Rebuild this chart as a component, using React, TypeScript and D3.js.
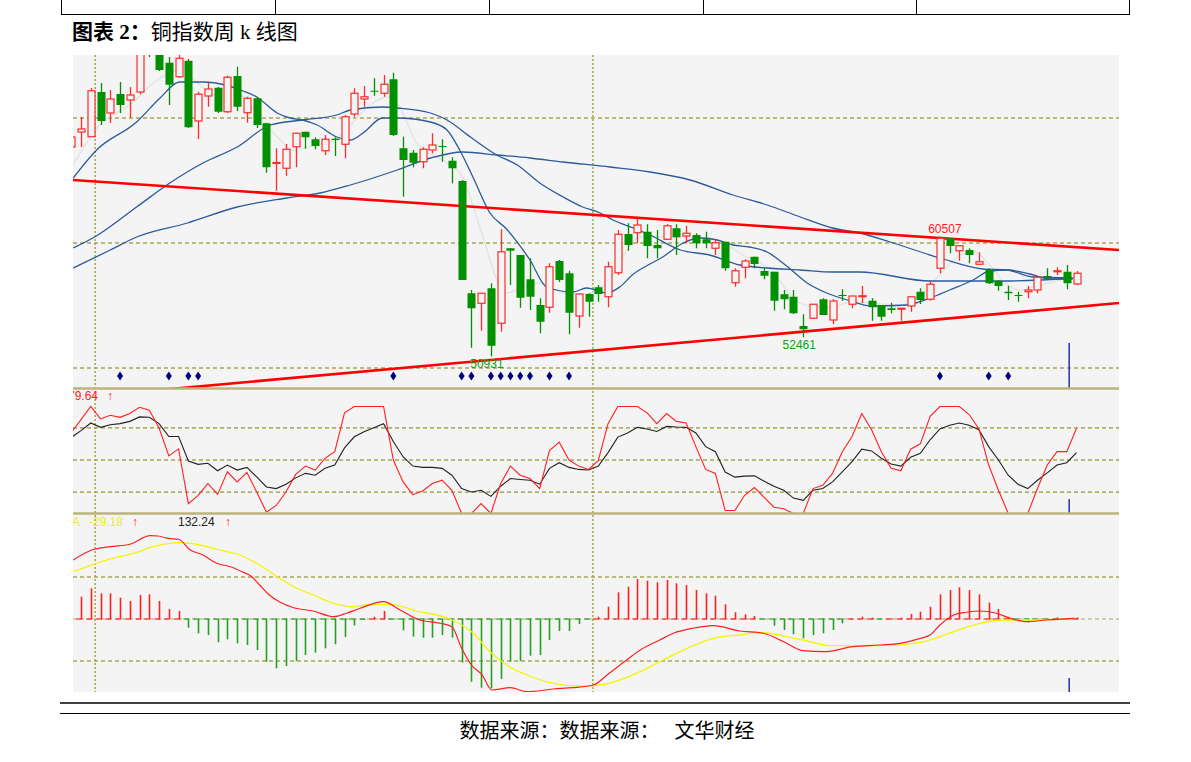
import React from "react";
import * as d3 from "d3";

// ---------------- DATA ----------------
// weekly candles, first element is index -1 (partially hidden at left edge)
const startIndex = -1;
const open = [67680, 68880, 68500, 72080, 70400, 71920, 71440, 72080, 76640, 76240,
  74420, 73300, 74580, 69760, 71760, 72420, 70500, 73360, 70420, 71580,
  69580, 66360, 65980, 67700, 68900, 68300, 67380, 68340, 67900, 70320,
  71520, 72180, 71980, 73100, 67580, 67220, 66500, 67440, 67760, 66580,
  64960, 55980, 55180, 56380, 53580, 59580, 59040, 57100, 55040, 54860,
  58560, 57580, 54160, 55920, 56460, 55700, 57620, 60720, 60820, 60900,
  59840, 60300, 61180, 60560, 60640, 60300, 59580, 60100, 56820, 58060,
  58900, 57760, 57700, 55900, 55700, 53360, 53980, 55500, 53840, 55840,
  55100, 55740, 55380, 55040, 54780, 54740, 54960, 56100, 55500, 57980,
  60380, 59380, 59440, 58300, 57840, 56960, 56100, 55840, 56100, 56240,
  57360, 57740, 57700, 56720];
const high = [68640, 70080, 72400, 72800, 72240, 72880, 72480, 76240, 77040, 77040,
  74880, 75040, 74720, 72100, 72800, 72480, 73380, 74100, 71700, 71700,
  69620, 67580, 67920, 68820, 68900, 68460, 68640, 68460, 70240, 72380,
  72560, 73180, 73440, 73620, 68500, 67440, 67660, 68780, 68300, 66860,
  65040, 56240, 56000, 56780, 61100, 59600, 59040, 58780, 55580, 58380,
  58640, 57780, 55920, 55980, 56640, 58500, 61040, 61580, 61980, 61500,
  61040, 61520, 61500, 61380, 60780, 60900, 60300, 60100, 57980, 58700,
  58900, 58060, 57700, 56240, 56240, 54300, 55120, 55580, 55500, 56300,
  55760, 56560, 55580, 55040, 55220, 54800, 55700, 56380, 56980, 60507,
  60380, 59780, 59580, 59260, 57980, 57040, 56580, 56100, 56560, 57260,
  57980, 58060, 58240, 57760];
const low = [67440, 67680, 68480, 69440, 69600, 70400, 70000, 71900, 74880, 73760,
  71040, 73200, 69200, 68320, 70900, 70400, 70400, 70560, 69620, 69200,
  65620, 64180, 65360, 66060, 67540, 67500, 67040, 66960, 66780, 70100,
  70900, 71780, 71700, 68560, 63700, 66060, 65980, 67180, 66500, 64780,
  57040, 51620, 52980, 50931, 52900, 56640, 54820, 54640, 52780, 54420,
  56880, 52700, 53220, 54100, 55300, 54860, 57440, 59380, 59980, 58780,
  58780, 60240, 59040, 59980, 59580, 59580, 59040, 57780, 56500, 57180,
  57980, 57100, 54580, 54700, 54320, 52461, 53960, 54240, 53500, 55380,
  54780, 55180, 53780, 53780, 54380, 53780, 54500, 55120, 55380, 57580,
  59180, 58580, 58380, 58240, 56720, 56180, 55440, 55300, 55580, 55980,
  57040, 57440, 56300, 56640];
const close = [68480, 69120, 72180, 69760, 71520, 71040, 71840, 75840, 75440, 73840,
  72660, 74780, 69260, 71900, 72320, 70500, 73260, 70900, 71580, 69440,
  66060, 66440, 67500, 68780, 68460, 67760, 68300, 68240, 70100, 71980,
  71700, 72140, 72700, 68640, 66640, 66420, 67500, 67840, 67700, 65980,
  57040, 54780, 55980, 51780, 59300, 59380, 55620, 55700, 53700, 58100,
  57040, 54420, 55920, 55300, 55920, 58100, 60700, 59840, 61440, 59760,
  59580, 61380, 60460, 60780, 59980, 59980, 60020, 57980, 57780, 58560,
  58320, 57380, 55380, 55500, 54380, 53100, 55100, 54240, 55360, 55760,
  55760, 55780, 54860, 54100, 54640, 54780, 55700, 55440, 56700, 60380,
  59760, 59780, 59040, 58500, 56780, 56560, 55980, 55760, 56240, 57260,
  57260, 57780, 56780, 57580];

// moving averages (candle index, price)
const ma1Idx = [-0.8, 1.9, 5.0, 8.1, 10.1, 12.2, 13.7, 16.3, 18.1, 19.9, 21.9, 24.0, 26.0, 27.6, 29.6, 31.4, 32.4, 34.4, 37.5, 39.1, 40.2, 41.6, 42.6, 43.6, 45.3, 47.0, 49.4, 51.1, 52.9, 54.2, 55.5, 57.3, 60.0, 62.4, 64.4, 66.2, 67.8, 69.6, 70.9, 72.3, 73.7, 75.4, 77.0, 78.8, 80.8, 83.9, 86.0, 88.0, 90.1, 91.6, 93.1, 94.7, 96.2, 98.3, 100.3, 101.6];
const ma1Val = [66240, 69440, 71040, 73200, 73840, 72640, 71840, 71840, 70240, 68640, 67440, 67840, 68240, 69440, 71040, 71680, 71200, 68000, 66400, 65280, 62880, 59440, 57040, 56000, 56480, 56800, 56000, 55840, 56240, 57040, 58880, 60480, 60480, 60480, 60400, 59840, 59040, 58400, 57680, 56240, 55200, 54880, 54880, 55280, 55200, 55040, 55840, 57440, 59040, 59280, 58240, 56800, 56240, 56640, 57040, 57120];
const ma2Idx = [-0.8, 1.6, 5.7, 8.1, 10.1, 12.5, 14.8, 16.6, 18.0, 20.1, 21.4, 22.7, 24.2, 26.2, 27.6, 28.9, 30.9, 32.4, 35.8, 37.5, 38.8, 40.2, 41.9, 43.6, 46.0, 47.7, 50.4, 51.8, 53.9, 55.2, 56.6, 58.3, 59.6, 61.7, 63.4, 65.2, 66.8, 68.5, 70.3, 72.3, 74.4, 76.4, 78.5, 81.1, 84.6, 87.0, 89.0, 91.4, 93.1, 94.9, 97.2, 99.3, 101.6];
const ma2Val = [65200, 67440, 69680, 71600, 72880, 72880, 72640, 72160, 71680, 70400, 70000, 69840, 69440, 68480, 68240, 68800, 70000, 70000, 69680, 69040, 67440, 65200, 62400, 61120, 58640, 56480, 56080, 56400, 56000, 56480, 57520, 58320, 58880, 60000, 60400, 60240, 59840, 59680, 59280, 58160, 56800, 56000, 55440, 54960, 55040, 55600, 56240, 57040, 57760, 57840, 57520, 57120, 57120];
const ma3Idx = [-0.8, 1.4, 5.7, 9.1, 12.5, 16.0, 19.4, 22.7, 26.2, 27.6, 30.9, 32.4, 35.8, 37.5, 39.9, 42.6, 44.7, 47.0, 49.4, 51.4, 53.2, 54.5, 56.6, 58.3, 61.4, 64.4, 67.5, 70.3, 73.7, 77.0, 79.8, 87.0, 94.2, 98.3, 101.6];
const ma3Val = [59600, 60480, 62880, 64800, 66400, 67680, 69440, 69840, 70240, 70640, 70880, 70800, 70400, 69840, 68480, 67040, 66240, 64800, 63680, 62880, 62400, 61840, 61200, 60640, 59440, 59040, 58240, 58000, 57840, 57680, 57680, 56960, 56960, 57040, 57200];
const ma4Idx = [-0.8, 3.0, 5.7, 10.9, 16.0, 21.1, 24.5, 27.6, 32.4, 35.8, 39.1, 42.6, 46.0, 49.4, 54.2, 58.3, 62.4, 66.8, 70.3, 73.7, 77.0, 79.8, 82.9, 88.0, 92.4, 94.9, 97.5, 101.6];
const ma4Val = [58000, 59440, 60480, 61600, 62880, 63600, 64000, 64640, 65840, 66800, 67280, 67040, 66800, 66480, 66080, 65680, 65040, 63840, 63040, 62080, 61200, 60800, 60080, 58800, 57920, 57840, 57280, 57200];

// hand-drawn trend lines (candle index, price)
const upperTrendIdx = [-0.82, 106.35];
const upperTrendVal = [65040, 59440];
const lowerTrendIdx = [5, 106.35];
const lowerTrendVal = [48025, 55200];

// marked extremes
const markLow1 = { index: 42, text: "50931" };
const markLow2 = { index: 74, text: "52461" };
const markHigh = { index: 88, text: "60507" };

// blue signal diamonds (candle index)
const signalIdx = [4, 9, 11, 12, 32, 39, 40, 42, 43, 44, 45, 46, 48, 50, 88, 93, 95];
// dotted period separators (between candles)
const periodBreaks = [1.45, 52.45];
const cursorIdx = 101.25;

// oscillator (KDJ-style) per candle, from index -1
const oscFast = [75.5, 87.7, 100, 88.4, 91.8, 89.9, 93.4, 99.3, 96.5, 79.9,
  53.8, 60.4, 9.2, 17.0, 28.0, 17.9, 39.0, 29.5, 38.4, 20.1,
  1.2, 7.5, 20.1, 36.5, 44.3, 40.6, 51.6, 57.8, 94.1, 100,
  100, 100, 100, 50, 29.5, 17.6, 21.0, 28.0, 31.1, 21.7,
  0, 0, 9.2, 0, 28.0, 44.3, 35.8, 32.7, 23.3, 58.8,
  66.7, 50, 44.3, 41.2, 49.3, 84.0, 100, 100, 100, 94.1,
  84.0, 93.4, 86.1, 84.6, 62.5, 41.2, 37.5, 2.8, 2.8, 17.0,
  24.2, 15.1, 5.9, 4.4, 0, 0, 23.3, 26.4, 37.5, 57.8,
  72.0, 93.4, 78.3, 57.8, 42.2, 39.9, 60.1, 65.1, 90.8, 100,
  100, 100, 92.5, 79.0, 45.3, 21.7, 0, 0, 0, 23.3,
  45.3, 57.8, 57.8, 79.6];
const oscSlow = [71.0, 77.4, 84.6, 80.5, 83.0, 84.0, 86.1, 90.3, 89.9, 84.0,
  72.0, 72.0, 49.1, 45.9, 46.9, 39.9, 45.3, 40.6, 43.1, 34.2,
  24.8, 23.3, 27.4, 33.3, 37.5, 35.8, 42.2, 45.3, 61.3, 71.7,
  76.4, 80.2, 84.0, 67.3, 53.1, 44.3, 43.1, 43.1, 42.2, 35.8,
  23.3, 20.1, 21.7, 16.0, 25.5, 32.7, 31.8, 31.1, 27.4, 42.2,
  47.5, 43.1, 41.2, 40.6, 44.3, 56.9, 71.4, 75.2, 80.5, 78.9,
  76.7, 81.4, 80.8, 80.5, 75.2, 62.5, 57.8, 38.7, 34.0, 34.9,
  35.2, 30.2, 25.5, 21.7, 14.4, 12.3, 21.7, 23.3, 29.5, 38.9,
  48.4, 60.1, 58.5, 51.6, 46.2, 44.3, 52.5, 56.3, 68.9, 79.0,
  82.4, 84.6, 82.4, 78.3, 62.5, 50.0, 35.8, 27.4, 23.3, 31.1,
  38.0, 45.3, 47.5, 56.9];
const oscGrid = [20, 50, 80];
const oscLabel = "79.64";

// MACD histogram per candle from index -1
const macdHist = [420, 531, 731, 612, 612, 507, 429, 571, 588, 429,
  238, 190, -207, -340, -381, -555, -483, -579, -619, -738,
  -1017, -1174, -1119, -1000, -857, -802, -698, -602, -429, -155,
  -20, 55, 190, -10, -269, -421, -445, -445, -381, -445,
  -1040, -1493, -1636, -1650, -1429, -1017, -1000, -874, -857, -500,
  -286, -286, -119, -7, 55, 293, 636, 769, 952, 912,
  874, 929, 850, 810, 690, 612, 555, 350, 160, 112,
  71, -10, -160, -262, -364, -460, -381, -340, -262, -102,
  5, 55, 31, -5, 5, 31, 119, 174, 293, 588,
  690, 755, 690, 588, 388, 238, 55, -48, -79, -10,
  -24, 40, 17, 40];
const difIdx = [-0.8, 1.1, 3.0, 5.0, 7.1, 7.9, 8.9, 10.0, 11.2, 12.5, 13.9, 15.3, 16.5, 17.5, 18.3, 19.2, 20.4, 21.8, 23.8, 25.9, 27.2, 28.6, 31.0, 32.7, 34.7, 36.8, 38.0, 39.0, 40.0, 41.1, 42.1, 44.0, 45.7, 48.4, 50.4, 52.5, 53.9, 55.9, 57.3, 59.3, 60.7, 62.7, 64.8, 67.5, 69.9, 72.0, 74.0, 76.1, 79.1, 81.9, 83.9, 86.0, 87.0, 88.0, 89.4, 90.7, 92.1, 93.8, 95.2, 96.9, 98.9, 101.8];
const difVal = [1405, 1643, 1721, 1779, 1983, 1976, 1921, 1898, 1643, 1524, 1326, 1245, 1126, 1007, 810, 588, 398, 269, 190, 55, 136, 255, 412, 214, -24, -102, -183, -698, -1095, -1333, -1690, -1636, -1731, -1667, -1636, -1571, -1333, -976, -738, -500, -340, -221, -160, -286, -340, -540, -755, -779, -660, -619, -579, -460, -381, -143, 95, 160, 190, 136, 17, -64, -24, 17];
const deaIdx = [-0.8, 1.3, 3.0, 5.4, 7.4, 10.1, 12.2, 14.2, 16.3, 18.3, 20.1, 21.8, 23.8, 25.9, 27.6, 29.3, 31.7, 34.4, 37.8, 40.2, 41.9, 43.6, 45.7, 48.4, 51.1, 53.2, 55.2, 57.3, 59.3, 62.1, 64.8, 67.5, 69.9, 72.3, 74.4, 76.7, 79.8, 83.2, 86.6, 89.4, 92.1, 94.5, 97.9, 101.8];
const deaVal = [1126, 1302, 1429, 1564, 1721, 1817, 1762, 1643, 1524, 1286, 1007, 769, 571, 374, 293, 333, 350, 190, 0, -340, -779, -1095, -1333, -1531, -1595, -1571, -1452, -1255, -1017, -698, -460, -381, -326, -421, -524, -636, -636, -619, -524, -302, -102, -24, -24, 17];
const macdGrid = [-1000, 0, 1000];
const deaLabel = "-29.18";
const macdLabel = "132.24";

const priceGrid = [50000, 60000, 70000];

// ---------------- LAYOUT ----------------
const W = 1191, H = 762;
const PL = 73, PR = 1119;
const mainTop = 55, mainBot = 388;
const kdjTop = 389, kdjBot = 514;
const macdTop = 514, macdBot = 692;
const BG = "#f4f4f4";
const RED = "#ff2a2a";
const GREEN = "#009000";
const MA_BLUE = "#2b5b9c";
const OLIVE = "#808000";
const FONT = "'Liberation Sans', Arial, sans-serif";
const SERIF = "'Liberation Serif', 'Noto Sans CJK SC', serif";

export default function App() {
  const x = d3.scaleLinear().domain([0, 102]).range([81, 1076.52]);
  const yP = d3.scaleLinear().domain([50000, 70000]).range([368, 118]);
  const yK = d3.scaleLinear().domain([0, 100]).range([513.5, 406.5]);
  const yM = d3.scaleLinear().domain([-1000, 1000]).range([661, 577]);
  const idx = open.map((_, k) => k + startIndex);

  const curvePath = (xs: number[], vs: number[], ys: (v: number) => number, curve: any = d3.curveMonotoneX) =>
    d3.line<[number, number]>().x(d => x(d[0])).y(d => ys(d[1])).curve(curve)(xs.map((v, k) => [v, vs[k]])) || "";

  const bw = 8;

  return (
    <div style={{ position: "fixed", left: 0, top: 0 }}>
      <svg width={W} height={H} style={{ display: "block", background: "#fff" }}>
        <defs>
          <clipPath id="cMain"><rect x={PL} y={mainTop} width={PR - PL} height={mainBot - mainTop} /></clipPath>
          <clipPath id="cKdj"><rect x={PL} y={kdjTop} width={PR - PL} height={kdjBot - kdjTop} /></clipPath>
          <clipPath id="cMacd"><rect x={PL} y={macdTop} width={PR - PL} height={macdBot - macdTop} /></clipPath>
        </defs>

        {/* top table fragment */}
        <line x1={61} x2={1130} y1={14.5} y2={14.5} stroke="#000" strokeWidth={1} />
        {[61.5, 275.5, 489.5, 703.5, 916.5, 1129.5].map((v, k) => (
          <line key={k} x1={v} x2={v} y1={0} y2={14} stroke="#000" strokeWidth={1} />
        ))}
        <text x={72} y={39} fontSize={21} fontFamily={SERIF} fill="#000">
          <tspan fontWeight="bold">图表 2：</tspan>铜指数周 k 线图
        </text>

        {/* background */}
        <rect x={PL} y={mainTop} width={PR - PL} height={macdBot - mainTop} fill={BG} />

        {/* grid */}
        {priceGrid.map(v => (
          <line key={"pg" + v} x1={PL} x2={PR} y1={yP(v)} y2={yP(v)} stroke={OLIVE} strokeDasharray="4,3" strokeWidth={1} />
        ))}
        {oscGrid.map(v => (
          <line key={"kg" + v} x1={PL} x2={PR} y1={yK(v)} y2={yK(v)} stroke={OLIVE} strokeDasharray="4,3" strokeWidth={1} />
        ))}
        {macdGrid.map(v => (
          <line key={"mg" + v} x1={PL} x2={PR} y1={yM(v)} y2={yM(v)} stroke={v === 0 ? "#a8a860" : OLIVE} strokeDasharray="4,3" strokeWidth={1} />
        ))}
        {periodBreaks.map(v => (
          <line key={"pb" + v} x1={x(v)} x2={x(v)} y1={mainTop} y2={macdBot} stroke="#a0a040" strokeDasharray="2,2" strokeWidth={1.4} />
        ))}

        {/* main panel */}
        <g clipPath="url(#cMain)">
          <path d={curvePath(ma1Idx, ma1Val, yP)} fill="none" stroke="#e2e2e2" strokeWidth={1.3} />
          <path d={curvePath(ma4Idx, ma4Val, yP)} fill="none" stroke={MA_BLUE} strokeWidth={1.3} />
          <path d={curvePath(ma3Idx, ma3Val, yP)} fill="none" stroke={MA_BLUE} strokeWidth={1.3} />
          <path d={curvePath(ma2Idx, ma2Val, yP)} fill="none" stroke={MA_BLUE} strokeWidth={1.3} />
          <path d={curvePath(upperTrendIdx, upperTrendVal, yP, d3.curveLinear)} fill="none" stroke="#ff0000" strokeWidth={2.6} />
          <path d={curvePath(lowerTrendIdx, lowerTrendVal, yP, d3.curveLinear)} fill="none" stroke="#ff0000" strokeWidth={2.6} />
          {idx.map((i, k) => {
            const o = open[k], c = close[k], h = high[k], l = low[k];
            const up = c >= o;
            const cx = Math.round(x(i)) + 0.5;
            const top = yP(Math.max(o, c));
            const bot = yP(Math.min(o, c));
            const bh = Math.max(1, bot - top);
            return (
              <g key={"c" + k}>
                <line x1={cx} x2={cx} y1={yP(h)} y2={yP(l)} stroke={up ? RED : GREEN} strokeWidth={1.3} />
                {up ? (
                  <rect x={cx - bw / 2 + 0.5} y={top} width={bw - 1} height={bh} fill={BG} stroke={RED} strokeWidth={1.2} />
                ) : (
                  <rect x={cx - bw / 2} y={top} width={bw} height={bh} fill={GREEN} />
                )}
              </g>
            );
          })}
          {signalIdx.map(i => {
            const cx = x(i), cy = 376;
            return <path key={"d" + i} d={`M${cx},${cy - 4.5}L${cx + 3},${cy}L${cx},${cy + 4.5}L${cx - 3},${cy}Z`} fill="#000080" />;
          })}
          <text x={x(markLow1.index) - 4} y={yP(low[markLow1.index - startIndex]) + 11.5} textAnchor="middle" fontSize={12} fontFamily={FONT} fill="#10a010">{markLow1.text}</text>
          <text x={x(markLow2.index) - 4} y={yP(low[markLow2.index - startIndex]) + 11.5} textAnchor="middle" fontSize={12} fontFamily={FONT} fill="#10a010">{markLow2.text}</text>
          <text x={x(markHigh.index) + 5} y={yP(high[markHigh.index - startIndex]) - 4} textAnchor="middle" fontSize={12} fontFamily={FONT} fill="#ff2020">{markHigh.text}</text>
          <line x1={x(cursorIdx)} x2={x(cursorIdx)} y1={mainBot - 45} y2={mainBot} stroke="#3a3aa8" strokeWidth={1.6} />
        </g>

        {/* oscillator panel */}
        <g clipPath="url(#cKdj)">
          <path d={curvePath(idx, oscSlow, yK, d3.curveLinear)} fill="none" stroke="#222" strokeWidth={1.1} />
          <path d={curvePath(idx, oscFast, yK, d3.curveLinear)} fill="none" stroke="#ff2020" strokeWidth={1.1} />
          <text x={68} y={400} fontSize={12} fontFamily={FONT} fill="#ff2020">{oscLabel}</text>
          <text x={107} y={400} fontSize={12} fontFamily={FONT} fill="#ff2020" fontWeight="bold">↑</text>
          <line x1={x(cursorIdx)} x2={x(cursorIdx)} y1={kdjBot - 15} y2={kdjBot} stroke="#3a3aa8" strokeWidth={1.6} />
        </g>

        {/* MACD panel */}
        <g clipPath="url(#cMacd)">
          {idx.map((i, k) => {
            const v = macdHist[k];
            const cx = Math.round(x(i)) + 0.5;
            const col = v >= 0 ? "#ff2020" : "#22a022";
            return (
              <g key={"h" + k}>
                <line x1={cx} x2={cx} y1={yM(0)} y2={yM(v)} stroke={col} strokeWidth={1.6} />
                <line x1={cx - 5} x2={cx + 0.8} y1={yM(0)} y2={yM(0)} stroke={col} strokeWidth={1.2} />
              </g>
            );
          })}
          <path d={curvePath(deaIdx, deaVal, yM)} fill="none" stroke="#f5f500" strokeWidth={1.3} />
          <path d={curvePath(difIdx, difVal, yM)} fill="none" stroke="#ff2020" strokeWidth={1.2} />
          <text x={72} y={525.5} fontSize={12} fontFamily={FONT} fill="#eeee20">A</text>
          <text x={89} y={525.5} fontSize={12} fontFamily={FONT} fill="#eeee20">{deaLabel}</text>
          <text x={132} y={525.5} fontSize={12} fontFamily={FONT} fill="#ff2020" fontWeight="bold">↑</text>
          <text x={178} y={525.5} fontSize={12} fontFamily={FONT} fill="#222">{macdLabel}</text>
          <text x={225} y={525.5} fontSize={12} fontFamily={FONT} fill="#ff2020" fontWeight="bold">↑</text>
          <line x1={x(cursorIdx)} x2={x(cursorIdx)} y1={macdBot - 14} y2={macdBot} stroke="#3a3aa8" strokeWidth={1.6} />
        </g>

        {/* panel separators */}
        <line x1={PL} x2={PR} y1={mainBot + 0.5} y2={mainBot + 0.5} stroke="#bcb47c" strokeWidth={2.5} />
        <line x1={PL} x2={PR} y1={kdjBot - 0.5} y2={kdjBot - 0.5} stroke="#bcb47c" strokeWidth={2.5} />

        {/* footer */}
        <line x1={60} x2={1130} y1={703} y2={703} stroke="#000" strokeWidth={1.6} />
        <line x1={60} x2={1130} y1={713.5} y2={713.5} stroke="#000" strokeWidth={1} />
        <text x={607} y={738} textAnchor="middle" fontSize={20} fontFamily={SERIF} fill="#000" xmlSpace="preserve">数据来源：数据来源：   文华财经</text>
      </svg>
    </div>
  );
}
